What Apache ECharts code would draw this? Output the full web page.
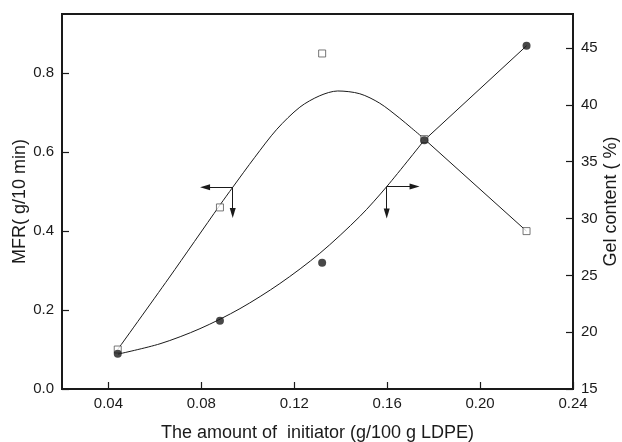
<!DOCTYPE html>
<html>
<head>
<meta charset="utf-8">
<script src="https://cdn.jsdelivr.net/npm/echarts@6/dist/echarts.min.js"></script>
<style>html,body{margin:0;padding:0;background:#fff}#c{width:622px;height:442px}</style>
</head>
<body>
<div id="c"></div>
<script>
// measured points
const xPoints = [0.044, 0.088, 0.132, 0.176, 0.220];
const mfrValues = [0.10, 0.46, 0.85, 0.633, 0.40];
const gelValues = [18.1, 21.0, 26.1, 36.9, 45.2];
// fitted curves
const mfrCurveX = [0.0441, 0.0660, 0.0880, 0.0935, 0.1030, 0.1125, 0.1224, 0.1310, 0.1387, 0.1482, 0.1568, 0.1654, 0.1705, 0.1761];
const mfrCurveY = [0.101, 0.281, 0.466, 0.511, 0.587, 0.658, 0.714, 0.743, 0.755, 0.748, 0.724, 0.686, 0.661, 0.633];
const gelCurveX = [0.0441, 0.0622, 0.0794, 0.0966, 0.1138, 0.1310, 0.1482, 0.1598, 0.1761];
const gelCurveY = [18.07, 18.98, 20.31, 22.07, 24.28, 26.94, 30.18, 32.81, 36.93];
// tick labels
const xTicks = [0.04, 0.08, 0.12, 0.16, 0.20, 0.24];
// annotation arrows: [startX, startY, endX, endY]
const mfrArrows = [[0.0935, 0.511, 0.0816, 0.511], [0.0935, 0.511, 0.0935, 0.446]];
const gelArrows = [[0.1598, 32.81, 0.1718, 32.81], [0.1598, 32.81, 0.1598, 30.44]];

const FONT = 'Liberation Sans, Arial, sans-serif';
const ink = '#1a1a1a';
const zip = (a, b) => a.map((v, i) => [v, b[i]]);
const arrowData = arr => arr.map(a => [{coord: [a[0], a[1]]}, {coord: [a[2], a[3]]}]);
const markArrows = arr => ({
  silent: true, animation: false,
  symbol: ['none', 'triangle'], symbolSize: [6, 10],
  label: {show: false},
  lineStyle: {type: 'solid', color: ink, width: 1, opacity: 1},
  itemStyle: {color: ink},
  emphasis: {disabled: true},
  data: arrowData(arr)
});

const chart = echarts.init(document.getElementById('c'));
chart.setOption({
  animation: false,
  grid: {left: 62, right: 49, top: 14, bottom: 53, show: true, borderColor: ink, borderWidth: 2,
    containLabel: false, outerBoundsMode: 'none'},
  xAxis: {
    type: 'value', min: 0.02, max: 0.24,
    name: 'The amount of  initiator (g/100 g LDPE)', nameLocation: 'middle', nameGap: 35,
    nameMoveOverlap: false,
    nameTextStyle: {fontFamily: FONT, fontSize: 18, color: ink},
    axisLine: {lineStyle: {color: ink, width: 2}},
    axisTick: {inside: true, length: 7, lineStyle: {color: ink, width: 1.2}, customValues: xTicks},
    axisLabel: {customValues: xTicks, fontFamily: FONT, fontSize: 15, color: ink, margin: 7,
      formatter: v => v.toFixed(2)},
    splitLine: {show: false}
  },
  yAxis: [{
    type: 'value', min: 0, max: 0.95, interval: 0.2,
    name: 'MFR( g/10 min)', nameLocation: 'middle', nameGap: 33, nameMoveOverlap: false,
    nameTextStyle: {fontFamily: FONT, fontSize: 18, color: ink},
    axisLine: {show: true, lineStyle: {color: ink, width: 2}},
    axisTick: {show: true, inside: true, length: 7, lineStyle: {color: ink, width: 1.2}},
    axisLabel: {fontFamily: FONT, fontSize: 15, color: ink, margin: 8, formatter: v => v.toFixed(1),
      showMaxLabel: false},
    splitLine: {show: false}
  }, {
    type: 'value', min: 15, max: 48, interval: 5, position: 'right',
    name: 'Gel content ( %)', nameLocation: 'middle', nameGap: 29, nameMoveOverlap: false,
    nameTextStyle: {fontFamily: FONT, fontSize: 18, color: ink},
    axisLine: {show: true, lineStyle: {color: ink, width: 2}},
    axisTick: {show: true, inside: true, length: 7, lineStyle: {color: ink, width: 1.2}},
    axisLabel: {fontFamily: FONT, fontSize: 15, color: ink, margin: 8, showMaxLabel: false},
    splitLine: {show: false}
  }],
  series: [
    {type: 'line', yAxisIndex: 0, data: zip(mfrCurveX, mfrCurveY), smooth: 0.3, showSymbol: false,
      lineStyle: {color: ink, width: 1}, silent: true, markLine: markArrows(mfrArrows)},
    {type: 'line', yAxisIndex: 0, data: zip(xPoints, mfrValues).slice(3), showSymbol: false,
      lineStyle: {color: ink, width: 1}, silent: true},
    {type: 'line', yAxisIndex: 1, data: zip(gelCurveX, gelCurveY), smooth: 0.3, showSymbol: false,
      lineStyle: {color: ink, width: 1}, silent: true, markLine: markArrows(gelArrows)},
    {type: 'line', yAxisIndex: 1, data: zip(xPoints, gelValues).slice(3), showSymbol: false,
      lineStyle: {color: ink, width: 1}, silent: true},
    {type: 'scatter', yAxisIndex: 0, data: zip(xPoints, mfrValues), symbol: 'rect', symbolSize: 7,
      itemStyle: {color: '#fff', borderColor: '#555', borderWidth: 1}, z: 3},
    {type: 'scatter', yAxisIndex: 1, data: zip(xPoints, gelValues), symbol: 'circle', symbolSize: 8,
      itemStyle: {color: ink}, z: 4}
  ]
});
</script>
</body>
</html>
